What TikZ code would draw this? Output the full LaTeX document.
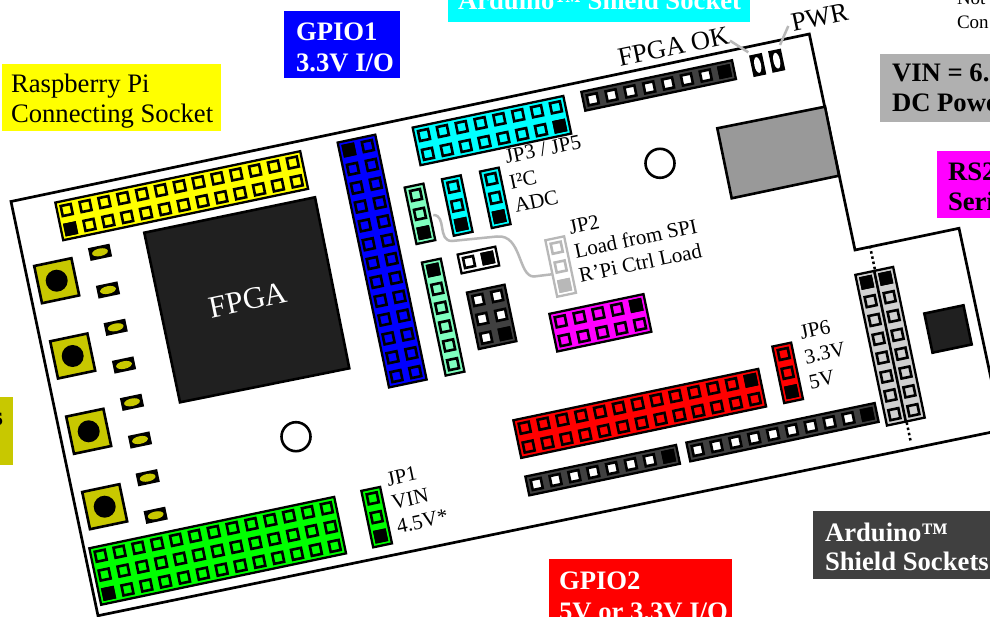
\documentclass[tikz,border=0pt]{standalone}
\usepackage{fontspec}
\setmainfont{Liberation Serif}
\definecolor{btn}{HTML}{C8C800}
\definecolor{darkh}{HTML}{404040}
\definecolor{chip}{HTML}{202020}
\definecolor{aqua}{HTML}{7FFFBF}
\definecolor{lgray}{HTML}{D0D0D0}
\definecolor{wire}{HTML}{B8B8B8}
\definecolor{vinbox}{HTML}{B0B0B0}
\definecolor{conn}{HTML}{999999}
\definecolor{ylw}{HTML}{FFFF00}
\definecolor{cyn}{HTML}{00FFFF}
\definecolor{mgn}{HTML}{FF00FF}
\definecolor{blu}{HTML}{0000FF}
\definecolor{redd}{HTML}{FF0000}
\definecolor{grn}{HTML}{00FF00}
\newcommand{\ang}{11.85}
\newcommand{\pitch}{19.25}
% x y cols rows boxfill i j pininner outline
\newcommand{\hdr}[9]{%
 \begin{scope}[shift={(#1,-#2)},rotate=\ang]
  \path[draw=#9,fill=#5,line width=2.3pt] (-9.6,9.6) rectangle ({(#3-1)*\pitch+9.6},{-(#4-1)*\pitch-9.6});
  \pgfmathtruncatemacro{\lastc}{#3-1}\pgfmathtruncatemacro{\lastr}{#4-1}
  \foreach \i in {0,...,\lastc}{\foreach \j in {0,...,\lastr}{
    \path[draw=#9,fill=#8,line width=2.6pt] ({\i*\pitch-5.1},{-\j*\pitch-5.1}) rectangle ({\i*\pitch+5.1},{-\j*\pitch+5.1});
  }}
  \path[fill=#9] ({#6*\pitch-6.5},{-#7*\pitch-6.5}) rectangle ({#6*\pitch+6.5},{-#7*\pitch+6.5});
 \end{scope}}
% cx cy w h fill
\newcommand{\rsq}[5]{\path[draw=black,fill=#5,line width=2.6pt,shift={(#1,-#2)},rotate=\ang] ({-#3/2},{-#4/2}) rectangle ({#3/2},{#4/2});}
\newcommand{\btnn}[2]{\rsq{#1}{#2}{38}{38}{btn}\fill[black] (#1,-#2) circle (11);}
\newcommand{\ledy}[2]{\path[fill=black,shift={(#1,-#2)},rotate=\ang] (-11,-6.5) rectangle (11,6.5);\path[fill=btn,shift={(#1,-#2)},rotate=\ang] (0,0) ellipse (8 and 3.8);}
\newcommand{\ledw}[2]{\path[fill=black,shift={(#1,-#2)},rotate=\ang] (-6.5,-11) rectangle (6.5,11);\path[fill=white,shift={(#1,-#2)},rotate=\ang] (0,0) ellipse (3.3 and 8);}
% name x y text
\newcommand{\lab}[4]{\node[rotlbl] (#1) at (#2,-#3) {#4};}
\tikzset{
 rotlbl/.style={anchor=base west,inner sep=0,outer sep=0,rotate=\ang,font=\fontsize{21}{24}\selectfont},
 bigrot/.style={rotlbl,font=\fontsize{26.5}{30}\selectfont},
 plainb/.style={anchor=base west,inner sep=0,outer sep=0,font=\fontsize{26.67}{30}\selectfont\bfseries},
 plainr/.style={anchor=base west,inner sep=0,outer sep=0,font=\fontsize{26.67}{30}\selectfont},
 note/.style={anchor=base west,inner sep=0,outer sep=0,font=\fontsize{19}{24}\selectfont},
 whiteb/.style={plainb,text=white},
 gwire/.style={draw=wire,line width=2.5pt}
}
\begin{document}
\begin{tikzpicture}[x=1pt,y=1pt,line join=miter]
\useasboundingbox (0,0) rectangle (990,-617);
\clip (0,0) rectangle (990,-617);
\fill[white] (0,0) rectangle (990,-617);
% board
\path[draw=black,fill=white,line width=2.7pt] (11,-201.5) -- (809.3,-34) -- (855,-250) -- (959,-228.3) -- (1002,-430) -- (98,-615.7) -- cycle;
\draw[black,line width=2.5pt,dash pattern=on 2.5pt off 2.8pt] (870,-246) -- (911,-443);
% FPGA chip, connector
\path[draw=black,fill=chip,line width=2.6pt] (144.3,-232.7) -- (315,-197.3) -- (349.3,-368.3) -- (180,-402.3) -- cycle;
\path[draw=black,fill=conn,line width=2.6pt] (717.3,-128.3) -- (825,-106.7) -- (839,-175.7) -- (731.7,-198.3) -- cycle;
\rsq{948}{329}{40}{40}{chip}
% headers
\hdr{66.7}{210}{13}{2}{ylw}{0}{1}{ylw}{black}
\hdr{349}{150}{2}{13}{blu}{0}{0}{blu}{black}
\hdr{424}{135}{8}{2}{cyn}{7}{1}{cyn}{black}
\hdr{416}{195}{1}{3}{aqua}{0}{2}{aqua}{black}
\hdr{453.3}{186.7}{1}{3}{cyn}{0}{2}{cyn}{black}
\hdr{491.3}{179}{1}{3}{cyn}{0}{2}{cyn}{black}
\hdr{469}{262}{2}{1}{white}{1}{0}{white}{black}
\hdr{433.3}{270}{1}{6}{aqua}{0}{0}{aqua}{black}
\hdr{478.3}{300}{2}{3}{darkh}{1}{2}{white}{black}
\hdr{560.7}{321.3}{5}{2}{mgn}{4}{0}{mgn}{black}
\hdr{592.7}{99.3}{8}{1}{darkh}{7}{0}{white}{black}
\hdr{524.7}{427.7}{13}{2}{redd}{12}{0}{redd}{black}
\hdr{783.7}{354}{1}{3}{redd}{0}{2}{redd}{black}
\hdr{866.7}{282.3}{1}{8}{lgray}{0}{0}{lgray}{black}
\hdr{885.7}{278.3}{1}{8}{lgray}{0}{0}{lgray}{black}
\hdr{536.7}{484}{8}{1}{darkh}{7}{0}{white}{black}
\hdr{697.7}{450}{10}{1}{darkh}{9}{0}{white}{black}
\hdr{100.7}{555.7}{13}{3}{grn}{0}{2}{grn}{black}
\hdr{372.7}{498.3}{1}{3}{grn}{0}{2}{grn}{black}
\hdr{556.7}{247.7}{1}{3}{white}{0}{2}{white}{wire}
% buttons, LEDs, holes
\btnn{56.7}{280.7}\btnn{72.7}{356}\btnn{88.7}{431.3}\btnn{104.7}{506.7}
\ledy{100}{252.3}\ledy{108}{290}\ledy{115.7}{327.3}\ledy{124}{365}
\ledy{132}{402.3}\ledy{140}{440}\ledy{147.7}{477.7}\ledy{155.7}{515.3}
\ledw{757.7}{65}\ledw{776.7}{60.7}
\path[draw=black,fill=white,line width=2.6pt] (660,-163.3) circle (14.5);
\path[draw=black,fill=white,line width=2.6pt] (296,-436.7) circle (14.5);
% wires
\coordinate (wa) at (433.3,-215);
\coordinate (wb) at (551.7,-274.3);
\coordinate (okend) at (748.3,-52.3);
\coordinate (pwrend) at (780,-45);
\draw[gwire] (wa) .. controls (447,-215) and (437,-241) .. (452,-241) -- (497,-236.5) .. controls (522,-234) and (518,-277) .. (534,-276.5) -- (wb);
% board labels
\node[bigrot] (fpgaok) at (620,-66.7) {FPGA OK};
\node[bigrot] (pwr) at (793.3,-31.7) {PWR};
\coordinate (okstart) at (730,-40.7);
\coordinate (pwrstart) at (788.3,-26);
\draw[gwire] (okstart) -- (okend);
\draw[gwire] (pwrstart) -- (pwrend);
\node[bigrot,text=white,anchor=center,font=\fontsize{31}{31}\selectfont] (fpgalbl) at (248,-300) {FPGA};
\lab{jpa}{506.7}{164}{JP3 / JP5}
\lab{jpb}{511}{189.3}{I²C}
\lab{jpc}{516}{212.3}{ADC}
\lab{jpd}{570.7}{234.3}{JP2}
\lab{jpe}{576}{258.3}{Load from SPI}
\lab{jpf}{580.7}{282.7}{R’Pi Ctrl Load}
\lab{jpg}{801.7}{339.3}{JP6}
\lab{jph}{806}{364}{3.3V}
\lab{jpi}{810.7}{389}{5V}
\lab{jpj}{388.3}{486}{JP1}
\lab{jpk}{393.3}{509.3}{VIN}
\lab{jpl}{398.3}{533.3}{4.5V*}
% outside tags
\fill[ylw] (2,-64) rectangle (221,-131);
\node[plainr] (ta) at (11,-93) {Raspberry Pi};
\node[plainr] (tb) at (11,-123) {Connecting Socket};
\fill[blu] (284,-11) rectangle (400,-78);
\node[whiteb] (tc) at (296,-41) {GPIO1};
\node[whiteb] (td) at (296,-72) {3.3V I/O};
\fill[cyn] (448,10) rectangle (750,-22);
\node[whiteb] (te) at (458,-10) {Arduino™ Shield Socket};
\node[note] (tf) at (957,-5) {Not};
\node[note] (tg) at (957,-29) {Con};
\fill[vinbox] (880,-54) rectangle (1000,-122);
\node[plainb] (th) at (892,-82) {VIN = 6.};
\node[plainb] (ti) at (892,-112) {DC Powe};
\fill[mgn] (937,-151) rectangle (1000,-218);
\node[plainb] (tj) at (948,-181) {RS2};
\node[plainb] (tk) at (948,-211) {Seri};
\fill[btn] (-5,-397) rectangle (13,-465);
\node[plainb] (tl) at (-7.4,-425) {s};
\fill[darkh] (813,-511) rectangle (1000,-579);
\node[whiteb] (tm) at (825,-541) {Arduino™};
\node[whiteb] (tn) at (825,-570) {Shield Sockets};
\fill[redd] (549,-559) rectangle (732,-630);
\node[whiteb] (to) at (559,-589) {GPIO2};
\node[whiteb] (tp) at (559,-620) {5V or 3.3V I/O};
\end{tikzpicture}
\end{document}
